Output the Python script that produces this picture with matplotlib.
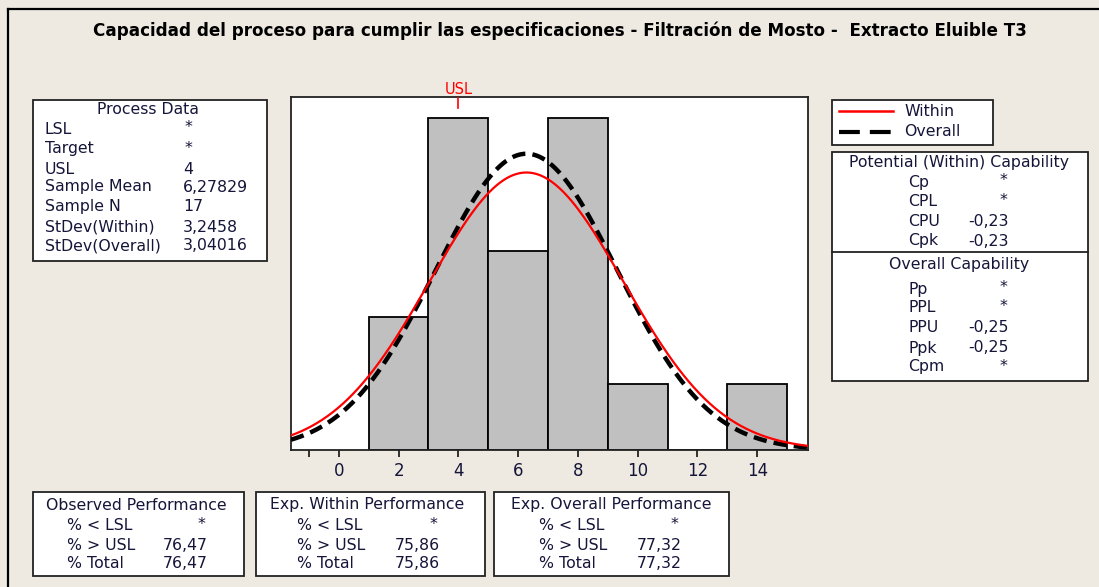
import numpy as np
import matplotlib
matplotlib.use("Agg")
import matplotlib.pyplot as plt
from matplotlib.patches import Rectangle
from matplotlib.lines import Line2D

# ---- data -------------------------------------------------------------
bin_edges = [1, 3, 5, 7, 9, 11, 13, 15]
bin_counts = [2, 5, 3, 5, 1, 0, 1]
usl = 4
sample_mean = 6.27829
sample_n = 17
sd_within = 3.2458
sd_overall = 3.04016
x_ticks = [-1, 0, 2, 4, 6, 8, 10, 12, 14]
x_tick_labels = ["", "0", "2", "4", "6", "8", "10", "12", "14"]

process_labels = ["LSL", "Target", "USL", "Sample Mean", "Sample N",
                  "StDev(Within)", "StDev(Overall)"]
process_values = ["*", "*", "4", "6,27829", "17", "3,2458", "3,04016"]

within_cap_labels = ["Cp", "CPL", "CPU", "Cpk"]
within_cap_values = ["*", "*", "-0,23", "-0,23"]
overall_cap_labels = ["Pp", "PPL", "PPU", "Ppk", "Cpm"]
overall_cap_values = ["*", "*", "-0,25", "-0,25", "*"]

perf_labels = ["% < LSL", "% > USL", "% Total"]
observed_perf = ["*", "76,47", "76,47"]
within_perf = ["*", "75,86", "75,86"]
overall_perf = ["*", "77,32", "77,32"]

title = ("Capacidad del proceso para cumplir las especificaciones - "
         "Filtración de Mosto -  Extracto Eluible T3")

# ---- figure -----------------------------------------------------------
W, H = 1099, 587
BG = "#EEEAE1"
TXT = "#15153a"
FS = 11.3
plt.rcParams["font.family"] = ["DejaVu Sans"]

fig = plt.figure(figsize=(W / 100, H / 100), dpi=100, facecolor=BG)


def fx(px):
    return px / W


def fy(py):
    return 1 - py / H


def box(x0, y0, x1, y1, lw=1.3):
    fig.patches.append(Rectangle((fx(x0), fy(y1)), fx(x1) - fx(x0),
                                 fy(y0) - fy(y1), transform=fig.transFigure,
                                 facecolor="white", edgecolor="#222222",
                                 linewidth=lw, zorder=1))


def hline(x0, x1, y, lw=1.3, color="#222222", **kw):
    fig.lines.append(Line2D([fx(x0), fx(x1)], [fy(y), fy(y)],
                            transform=fig.transFigure, color=color,
                            linewidth=lw, **kw))


def vline(x, y0, y1, lw=1.3, color="#222222"):
    fig.lines.append(Line2D([fx(x), fx(x)], [fy(y0), fy(y1)],
                            transform=fig.transFigure, color=color,
                            linewidth=lw))


def text(x, y, s, ha="left", size=FS, **kw):
    fig.text(fx(x), fy(y), s, ha=ha, va="center", fontsize=size,
             color=kw.pop("color", TXT), **kw)


def value(x_num, x_star, y, s):
    # missing values are shown as an asterisk
    if s == "*":
        text(x_star, y - 1, s, ha="center")
    else:
        text(x_num, y, s)


# outer frame
hline(8, W, 9, lw=1.6, color="black")
vline(8, 9, H, lw=1.6, color="black")

# title
text(560, 31, title, ha="center", size=12.1, fontweight="bold",
     color="black")

# ---- histogram + fitted curves ---------------------------------------
ax = fig.add_axes([fx(291), fy(450), fx(808) - fx(291), fy(97) - fy(450)])
ax.set_facecolor("white")
widths = np.diff(bin_edges)
ax.bar(bin_edges[:-1], bin_counts, width=widths, align="edge",
       color="#C0C0C0", edgecolor="black", linewidth=1.3, zorder=2)

xlim = (-1.6, 15.7)
ax.set_xlim(*xlim)
ax.set_ylim(0, 5.316)
xs = np.linspace(xlim[0], xlim[1], 400)
scale = sample_n * widths[0]


def normal_pdf(x, mu, sd):
    return np.exp(-0.5 * ((x - mu) / sd) ** 2) / (sd * np.sqrt(2 * np.pi))


ax.plot(xs, scale * normal_pdf(xs, sample_mean, sd_overall), color="black",
        linewidth=3.2, dashes=(3, 1.6), zorder=3)
ax.plot(xs, scale * normal_pdf(xs, sample_mean, sd_within), color="red",
        linewidth=1.6, zorder=4)

ax.axvline(usl, ymin=0.97, ymax=1.0, color="red", linewidth=1.2, zorder=5)
ax.annotate("USL", xy=(usl, 1.0), xycoords=ax.get_xaxis_transform(),
            xytext=(0, 8), textcoords="offset pixels", ha="center",
            va="center", color="red", fontsize=10.5)

ax.set_xticks(x_ticks)
ax.set_xticklabels(x_tick_labels)
ax.set_yticks([])
ax.tick_params(axis="x", direction="out", length=5, width=1.3, pad=4,
               labelsize=12, labelcolor=TXT, color="#222222")
for sp in ax.spines.values():
    sp.set_linewidth(1.3)
    sp.set_color("#222222")

# ---- process data -----------------------------------------------------
box(33, 100, 267, 261)
text(148, 110, "Process Data", ha="center")
rows_y = [129, 149, 169, 187, 207, 227, 246]
for yy, lab, val in zip(rows_y, process_labels, process_values):
    text(45, yy, lab)
    value(183, 188, yy, val)

# ---- legend -----------------------------------------------------------
box(832, 100, 993, 145)
hline(839, 893, 111, lw=1.8, color="red")
hline(839, 893, 132, lw=3, color="black", dashes=(5, 2.4))
text(904, 111, "Within")
text(904, 132, "Overall")

# ---- capability -------------------------------------------------------
box(832, 152, 1088, 381)
hline(832, 1088, 252)
text(959, 162, "Potential (Within) Capability", ha="center")
for yy, lab, val in zip([182, 202, 221, 241], within_cap_labels,
                        within_cap_values):
    text(908, yy, lab)
    value(968, 1003, yy, val)
text(959, 265, "Overall Capability", ha="center")
for yy, lab, val in zip([289, 308, 328, 348, 367], overall_cap_labels,
                        overall_cap_values):
    text(908, yy, lab)
    value(968, 1003, yy, val)

# ---- performance boxes -----------------------------------------------
perf_boxes = [
    ((33, 244), "Observed Performance", 136, 67, 163, 201, observed_perf),
    ((256, 485), "Exp. Within Performance", 367, 297, 395, 433, within_perf),
    ((494, 729), "Exp. Overall Performance", 611, 539, 637, 674,
     overall_perf),
]
for (x0, x1), head, xc, xl, xv, xst, vals in perf_boxes:
    box(x0, 492, x1, 576)
    text(xc, 505, head, ha="center")
    for yy, lab, val in zip([525, 545, 563], perf_labels, vals):
        text(xl, yy, lab)
        value(xv, xst, yy, val)

fig.savefig("out.png", dpi=100, facecolor=BG)
